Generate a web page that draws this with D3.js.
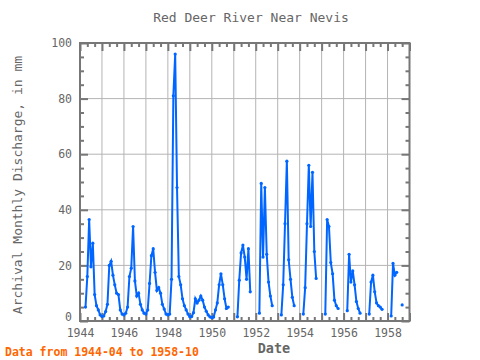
<!DOCTYPE html>
<html><head><meta charset="utf-8">
<script src="https://cdn.jsdelivr.net/npm/d3@7"></script>
<style>
body{margin:0;background:#fff;}
text{font-family:"DejaVu Sans Mono",monospace;fill:#666;}
</style></head>
<body><svg id="c" width="480" height="360"></svg>
<script>
// monthly discharge (mm), Jan..Dec, null = missing
const v1944 = [null,null,null,5,16,36.5,19.5,28,9.5,5.5,4,2.2];
const v1945 = [1.6,1.8,3.4,6,20,21.5,16.5,13,10,9.5,4,2.5];
const v1946 = [2.2,2.8,5,16,19,34,14.4,9,10,6,4,2.8];
const v1947 = [2.5,4,13.5,23.5,26,17.5,11,12,10,6,4.3,2.5];
const v1948 = [2.2,2.5,15,81,96,48,16,13,8,5.5,4,2.5];
const v1949 = [1.5,1.6,3,8,6.5,7.5,9,7.5,5,3.5,2.2,1.5];
const v1950 = [1.2,1.4,4,6.5,13,17,13,8,4.5,5,null,null];
const v1951 = [null,null,1.5,14.7,24.5,27.3,23,15,26,10.5,null,null];
const v1952 = [null,null,2.8,49.5,23,48,24,14,9,5.5,null,null];
const v1953 = [null,null,2.2,13,35,57.5,22,15,8.5,5.5,null,null];
const v1954 = [null,null,2.5,12,35,56,34,53.5,25,15.3,null,null];
const v1955 = [null,null,2.5,36.5,34,21,17,7.5,5.5,4.5,null,null];
const v1956 = [null,null,3.7,24,14,18,13,7,4.5,2.8,null,null];
const v1957 = [null,null,2.5,14,16.5,10.5,6.5,5.5,5,4.2,null,null];
const v1958 = [null,null,1.8,20.7,16.5,17.5,null,null,5.8,null,null,null];
const years = [1944,1945,1946,1947,1948,1949,1950,1951,1952,1953,1954,1955,1956,1957,1958];
const yearValues = [v1944,v1945,v1946,v1947,v1948,v1949,v1950,v1951,v1952,v1953,v1954,v1955,v1956,v1957,v1958];
const yTicks = [0,20,40,60,80,100];
const xLabelYears = [1944,1946,1948,1950,1952,1954,1956,1958];

const series = [];
years.forEach((yr,k)=>yearValues[k].forEach((v,m)=>series.push({t:yr+m/12,v:v})));
// trim to range 1944-04 .. 1958-10
const data = series.filter(d=>d.t>=1944+3/12-1e-6 && d.t<=1958+9/12+1e-6);

const svg = d3.select("#c");
const L=80,R=409.5,T=43,B=321;
const x = d3.scaleLinear().domain([1944,1959]).range([L,R]);
const y = d3.scaleLinear().domain([0,100]).range([B,T]);

// grid
const g = svg.append("g");
g.selectAll("line.vg").data(d3.range(1945,1959)).enter().append("line")
 .attr("x1",d=>x(d)).attr("x2",d=>x(d)).attr("y1",T).attr("y2",B)
 .attr("stroke","#b4b4b4").attr("stroke-width",1);
g.selectAll("line.hg").data([20,40,60,80]).enter().append("line")
 .attr("x1",L).attr("x2",R).attr("y1",d=>y(d)).attr("y2",d=>y(d))
 .attr("stroke","#b4b4b4").attr("stroke-width",1);

function styleAxis(sel){
  sel.select(".domain").remove();
  sel.selectAll("line").attr("stroke","#777").attr("stroke-width",2);
  sel.selectAll("text").style("font-family","DejaVu Sans Mono").style("font-size","11.5px").attr("fill","#666");
}
const minorX = d3.range(1944,1959.01,1/3).filter(t=>Math.abs(t-Math.round(t))>0.01);
const minorY = d3.range(0,101,5).filter(v=>v%20!==0);

// left
const leftAx = svg.append("g").attr("transform",`translate(${L},0)`)
  .call(d3.axisLeft(y).tickValues(yTicks).tickSize(-8).tickPadding(8).tickFormat(d3.format("d"))).call(styleAxis);
leftAx.selectAll(".tick").filter(d=>d===0).select("text").attr("y",-4);
svg.append("g").attr("transform",`translate(${L},0)`)
  .call(d3.axisLeft(y).tickValues(minorY).tickSize(-4).tickFormat("")).call(styleAxis);
// right
svg.append("g").attr("transform",`translate(${R},0)`)
  .call(d3.axisRight(y).tickValues(yTicks).tickSize(-8).tickFormat("")).call(styleAxis);
svg.append("g").attr("transform",`translate(${R},0)`)
  .call(d3.axisRight(y).tickValues(minorY).tickSize(-4).tickFormat("")).call(styleAxis);
// bottom
svg.append("g").attr("transform",`translate(0,${B})`)
  .call(d3.axisBottom(x).tickValues(d3.range(1944,1960)).tickSize(-8).tickPadding(8)
  .tickFormat(d=>xLabelYears.includes(d)?String(d):"")).call(styleAxis);
svg.append("g").attr("transform",`translate(0,${B})`)
  .call(d3.axisBottom(x).tickValues(minorX).tickSize(-4).tickFormat("")).call(styleAxis);
// top
svg.append("g").attr("transform",`translate(0,${T})`)
  .call(d3.axisTop(x).tickValues(d3.range(1944,1960)).tickSize(-8).tickFormat("")).call(styleAxis);
svg.append("g").attr("transform",`translate(0,${T})`)
  .call(d3.axisTop(x).tickValues(minorX).tickSize(-4).tickFormat("")).call(styleAxis);

// frame
svg.append("rect").attr("x",L).attr("y",T).attr("width",R-L).attr("height",B-T)
 .attr("fill","none").attr("stroke","#777").attr("stroke-width",2);

// data line
const line = d3.line().defined(d=>d.v!==null).x(d=>x(d.t)).y(d=>y(d.v));
svg.append("path").datum(data).attr("d",line).attr("fill","none")
 .attr("stroke","#0066ff").attr("stroke-width",2).attr("stroke-linejoin","miter");
svg.selectAll("circle.pt").data(data.filter(d=>d.v!==null)).enter().append("circle")
 .attr("cx",d=>x(d.t)).attr("cy",d=>y(d.v)).attr("r",1.6).attr("fill","#0066ff");

// texts
svg.append("text").attr("x",251).attr("y",22).attr("text-anchor","middle")
 .style("font-size","13px").text("Red Deer River Near Nevis");
svg.append("text").attr("x",274).attr("y",353).attr("text-anchor","middle")
 .style("font-size","13.5px").style("font-weight","bold").text("Date");
svg.append("text").attr("transform","translate(22,185) rotate(-90)").attr("text-anchor","middle")
 .style("font-size","13px").text("Archival Monthly Discharge, in mm");
svg.append("text").attr("x",5).attr("y",356).style("font-size","11.5px").style("font-weight","bold")
 .style("fill","#ff6600").text("Data from 1944-04 to 1958-10");
</script></body></html>
